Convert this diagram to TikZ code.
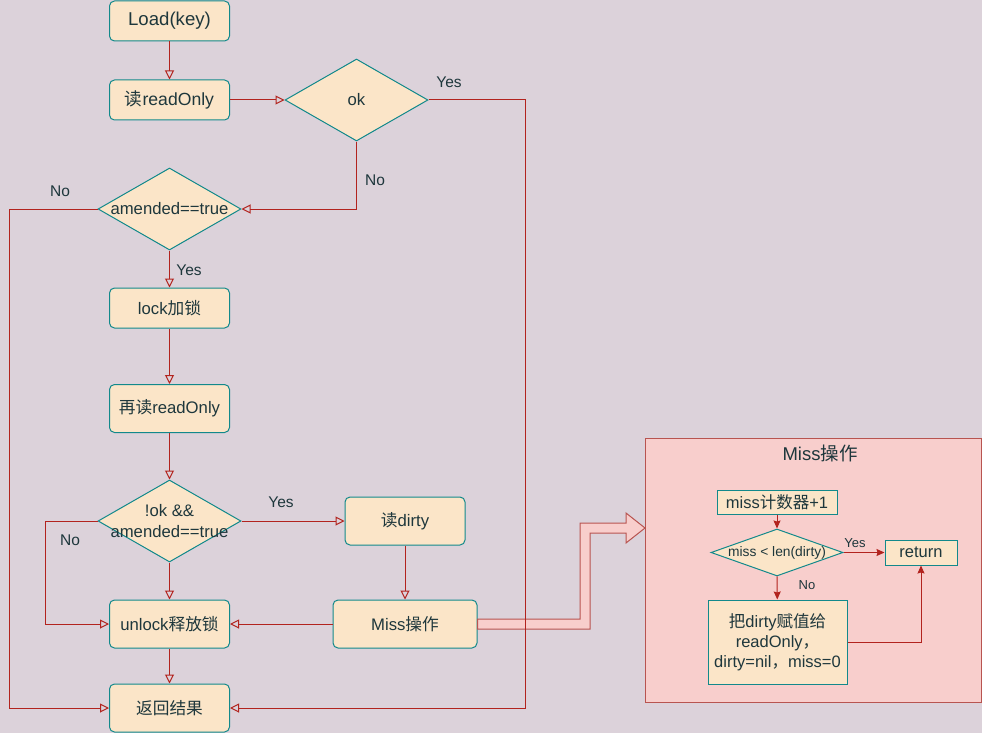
\documentclass[tikz,border=0pt]{standalone}
\usepackage{fontspec}
\setmainfont{Liberation Sans}
\newfontfamily\cjk{Noto Sans CJK SC}
\usetikzlibrary{shapes.geometric,arrows.meta,positioning,calc}

\definecolor{bgmauve}{HTML}{DCD2DA}
\definecolor{boxfill}{HTML}{FBE5C8}
\definecolor{boxline}{HTML}{12898B}
\definecolor{txtdark}{HTML}{1E373C}
\definecolor{linered}{HTML}{B2231E}
\definecolor{grpfill}{HTML}{F8CECC}
\definecolor{grpline}{HTML}{B85450}

\begin{document}
\begin{tikzpicture}[
    x=1pt, y=-1pt,
    stepbox/.style={rectangle, draw=boxline, fill=boxfill, rounded corners=5pt, line width=1pt,
                    minimum width=120pt, minimum height=40pt, inner sep=0pt, text=txtdark,
                    font=\fontsize{16.7}{20}\selectfont, align=center},
    plainbox/.style={rectangle, draw=boxline, fill=boxfill, line width=1pt, inner sep=0pt,
                     text=txtdark, font=\fontsize{16.5}{20}\selectfont, align=center},
    decision/.style={diamond, draw=boxline, fill=boxfill, line width=1pt, inner sep=0pt,
                     minimum width=143pt, minimum height=82pt},
    dtext/.style={text=txtdark, font=\fontsize{16.7}{21}\selectfont, align=center, inner sep=0pt},
    grpbox/.style={rectangle, draw=grpline, fill=grpfill, line width=1pt,
                   minimum width=336pt, minimum height=264pt},
    arr/.style={draw=linered, line width=1pt, -{Triangle[open, length=9pt, width=9pt]}},
    farr/.style={draw=linered, line width=1pt, -{Stealth[length=8pt, width=7pt, inset=1pt]}},
    lbl/.style={text=txtdark, font=\fontsize{15.5}{18}\selectfont, inner sep=0pt},
    slbl/.style={text=txtdark, font=\fontsize{13}{16}\selectfont, inner sep=0pt}
  ]
    %--- Canvas ---
    \fill[bgmauve] (0,0) rectangle (982,733);
    \useasboundingbox (0,0) rectangle (982,733);

    %--- Main flow (top to bottom) ---
    \node[stepbox, font=\fontsize{18.6}{22}\selectfont] (load) at (169.5,21) {Load(key)};
    \node[stepbox, font=\fontsize{17.6}{21}\selectfont] (ronly) at (169.5,100) {{\cjk 读}readOnly};
    \node[decision, label={[dtext]center:ok}] (ok) at (356.5,100) {};
    \node[decision, label={[dtext]center:amended==true}] (amend) at (169.5,209) {};
    \node[stepbox]                   (lock)   at (169.5,308) {lock{\cjk 加锁}};
    \node[stepbox, minimum height=48pt] (reread) at (169.5,408.5) {{\cjk 再读}readOnly};
    \node[decision, label={[dtext]center:!ok \&\&\\amended==true}] (chk) at (169.5,521) {};
    \node[stepbox, minimum height=48pt] (unlock) at (169.5,624) {unlock{\cjk 释放锁}};
    \node[stepbox, minimum height=48pt] (ret)    at (169.5,708) {\cjk 返回结果};

    %--- Dirty branch (middle) ---
    \node[stepbox, minimum height=48pt] (rdirty) at (405,521) {{\cjk 读}dirty};
    \node[stepbox, minimum width=144pt, minimum height=48pt] (missop) at (405,624) {Miss{\cjk 操作}};

    %--- Block arrow into the Miss group ---
    \coordinate (tip) at (645,528);
    \filldraw[fill=grpfill, draw=grpline, line width=1pt, line join=miter]
      ($(missop.east)+(0,-5)$) -- (580,619) -- (580,523) -- ($(tip)+(-19,-5)$)
      -- ($(tip)+(-19,-15)$) -- (tip) -- ($(tip)+(-19,15)$) -- ($(tip)+(-19,5)$)
      -- (590,533) -- (590,629) -- ($(missop.east)+(0,5)$) -- cycle;

    %--- Miss group (right side) ---
    \node[grpbox] (grp) at (813,570) {};
    \node[text=txtdark, font=\fontsize{18.5}{22}\selectfont] (title) at (820,453) {Miss{\cjk 操作}};
    \node[plainbox, minimum width=120pt, minimum height=24pt] (cnt) at (777,502) {miss{\cjk 计数器}+1};
    \node[decision, minimum width=132pt, minimum height=47pt,
          label={[dtext, font=\fontsize{13.8}{16}\selectfont]center:miss < len(dirty)}] (lt) at (777,552.5) {};
    \node[plainbox, minimum width=72pt, minimum height=25pt] (rtn) at (921,552.5) {return};
    \node[plainbox, minimum width=139pt, minimum height=84pt] (asg) at (777.5,642)
      {{\cjk 把}dirty{\cjk 赋值给}\\readOnly{\cjk ，}\\dirty=nil{\cjk ，}miss=0};

    %--- Main flow arrows ---
    \draw[arr] (load)  -- (ronly);
    \draw[arr] (ronly) -- (ok);
    \draw[arr] (ok.south) |- (amend.east);
    \draw[arr] (amend) -- (lock);
    \draw[arr] (lock)  -- (reread);
    \draw[arr] (reread) -- (chk);
    \draw[arr] (chk)   -- (unlock);
    \draw[arr] (chk.east) -- (rdirty.west);
    \draw[arr] (rdirty) -- (missop);
    \draw[arr] (missop.west) -- (unlock.east);
    \draw[arr] (unlock) -- (ret);

    %--- Side returns ---
    \coordinate (okyes)  at (525,100);
    \coordinate (amdno)  at (9,209);
    \coordinate (chkno)  at (45.5,521);
    \draw[arr] (ok.east) -- (okyes) |- (ret.east);
    \draw[arr] (amend.west) -- (amdno) |- (ret.west);
    \draw[arr] (chk.west) -- (chkno) |- (unlock.west);

    %--- Miss group arrows ---
    \draw[farr] (cnt) -- (lt);
    \draw[farr] (lt.east) -- (rtn.west);
    \draw[farr] (lt) -- (asg);
    \draw[farr] (asg.east) -| (rtn.south);

    %--- Labels ---
    \node[lbl] (l1) at (449,82)  {Yes};
    \node[lbl] (l2) at (375,180) {No};
    \node[lbl] (l3) at (60,191)  {No};
    \node[lbl] (l4) at (189,270) {Yes};
    \node[lbl] (l5) at (281,502) {Yes};
    \node[lbl] (l6) at (70,540)  {No};
    \node[slbl] (l7) at (855,543) {Yes};
    \node[slbl] (l8) at (807,585) {No};
  \end{tikzpicture}
\end{document}
